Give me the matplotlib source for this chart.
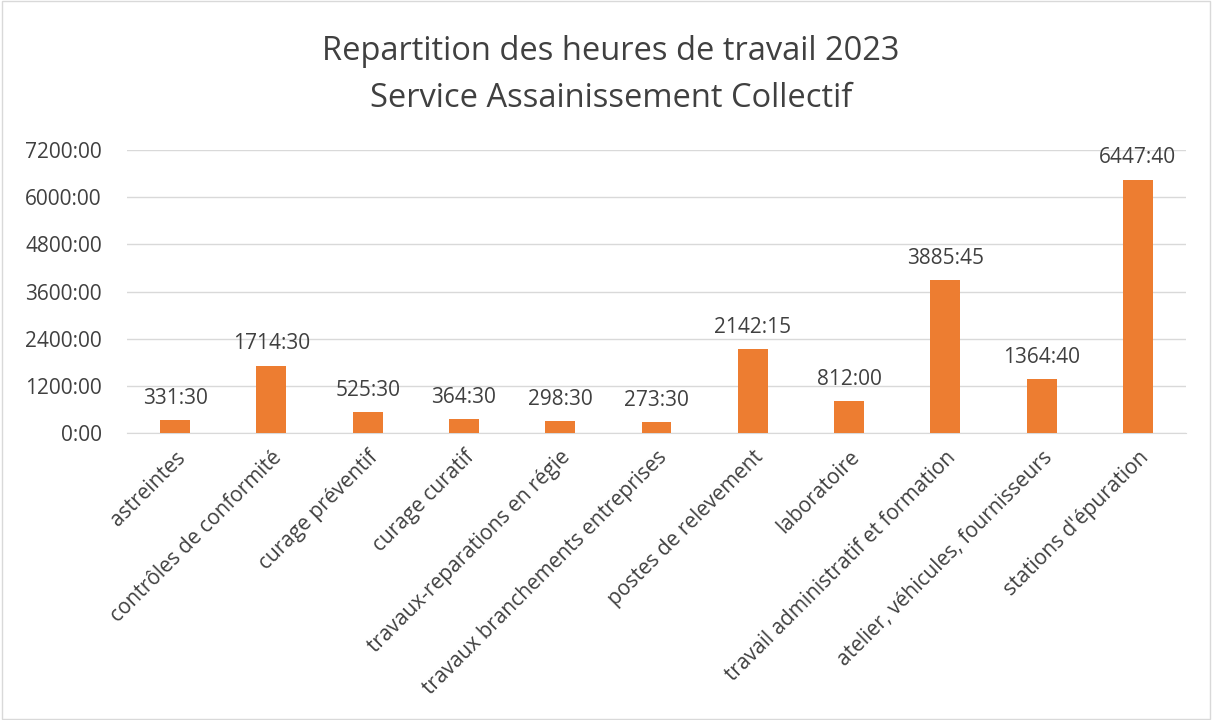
import matplotlib.pyplot as plt
from matplotlib.ticker import FuncFormatter

categories = ["astreintes", "contrôles de conformité", "curage préventif", "curage curatif",
              "travaux-reparations en régie", "travaux branchements entreprises",
              "postes de relevement", "laboratoire", "travail administratif et formation",
              "atelier, véhicules, fournisseurs", "stations d'épuration"]
# hours, minutes
hours = [331, 1714, 525, 364, 298, 273, 2142, 812, 3885, 1364, 6447]
minutes = [30, 30, 30, 30, 30, 30, 15, 0, 45, 40, 40]
values = [h + m / 60 for h, m in zip(hours, minutes)]
labels = [f"{h}:{m:02d}" for h, m in zip(hours, minutes)]

plt.rcParams['font.family'] = ['Open Sans', 'DejaVu Sans']
fig = plt.figure(figsize=(12.12, 7.2), dpi=100)
ax = fig.add_axes([127/1212, 1 - 433/720, 1059/1212, 283/720])

x = range(len(categories))
bars = ax.bar(x, values, width=0.31, color="#ED7D31", zorder=3)
for b, lab in zip(bars, labels):
    ax.annotate(lab, (b.get_x() + b.get_width() / 2, b.get_height()), xytext=(0, 8),
                textcoords="offset points", ha="center", va="bottom", fontsize=15, color="#404040")

ax.set_ylim(0, 7200)
ax.set_xlim(-0.5, len(categories) - 0.5)
ax.set_yticks(range(0, 7201, 1200))
ax.yaxis.set_major_formatter(FuncFormatter(lambda v, p: f"{int(v)}:00"))
ax.grid(axis="y", color="#D9D9D9", linewidth=1, zorder=0)
for s in ["top", "right", "left"]:
    ax.spines[s].set_visible(False)
ax.spines["bottom"].set_color("#D9D9D9")
ax.tick_params(axis="y", length=0, labelsize=15, colors="#404040", pad=18)
ax.tick_params(axis="x", length=0, labelsize=15, colors="#404040", pad=10)
ax.set_xticks(list(x))
ax.set_xticklabels(categories, rotation=45, ha="right", rotation_mode="anchor")

fig.text(0.504, 1 - 75/720, "Repartition des heures de travail 2023\nService Assainissement Collectif",
         ha="center", va="center", fontsize=23.5, color="#404040", linespacing=1.55)
fig.patches.append(plt.Rectangle((0.002, 0.002), 0.996, 0.996, transform=fig.transFigure,
                                 fill=False, edgecolor="#D9D9D9", linewidth=1))
fig.savefig("out.png", dpi=100)
